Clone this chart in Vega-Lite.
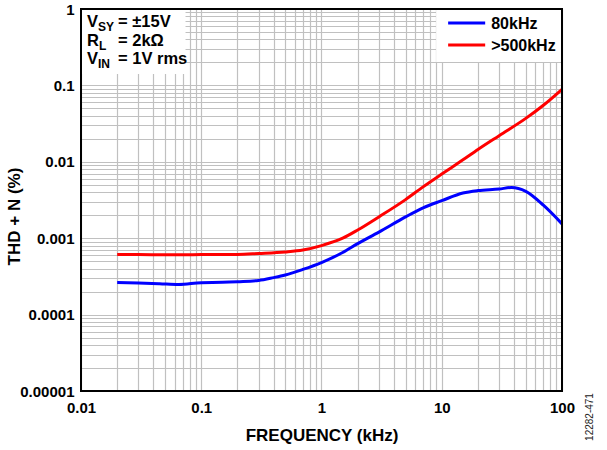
{
  "$schema": "https://vega.github.io/schema/vega-lite/v6.json",
  "width": 481,
  "height": 382,
  "autosize": "none",
  "padding": {"left": 81, "top": 9, "right": 45, "bottom": 59},
  "background": "white",
  "config": {
    "view": {"stroke": null},
    "font": "Liberation Sans",
    "axis": {
      "labelFont": "Liberation Sans",
      "labelFontWeight": "bold",
      "labelFontSize": 15,
      "labelColor": "black",
      "titleFont": "Liberation Sans",
      "titleFontWeight": "bold",
      "titleFontSize": 17,
      "titleColor": "black",
      "domain": false,
      "ticks": false,
      "grid": true,
      "gridColor": "#c0c0c0",
      "gridWidth": 1.2,
      "gridOpacity": 1,
      "labelOverlap": false,
      "labelFlush": false
    }
  },
  "data": {
    "values": [
      {"freq": 0.02, "thd": 0.000263, "series": "80kHz"},
      {"freq": 0.03, "thd": 0.00026, "series": "80kHz"},
      {"freq": 0.045, "thd": 0.000254, "series": "80kHz"},
      {"freq": 0.065, "thd": 0.000248, "series": "80kHz"},
      {"freq": 0.1, "thd": 0.000262, "series": "80kHz"},
      {"freq": 0.15, "thd": 0.000265, "series": "80kHz"},
      {"freq": 0.2, "thd": 0.00027, "series": "80kHz"},
      {"freq": 0.3, "thd": 0.00028, "series": "80kHz"},
      {"freq": 0.4, "thd": 0.000305, "series": "80kHz"},
      {"freq": 0.5, "thd": 0.00033, "series": "80kHz"},
      {"freq": 0.7, "thd": 0.00039, "series": "80kHz"},
      {"freq": 1, "thd": 0.00048, "series": "80kHz"},
      {"freq": 1.5, "thd": 0.00065, "series": "80kHz"},
      {"freq": 2, "thd": 0.00085, "series": "80kHz"},
      {"freq": 3, "thd": 0.0012, "series": "80kHz"},
      {"freq": 5, "thd": 0.0019, "series": "80kHz"},
      {"freq": 7, "thd": 0.0025, "series": "80kHz"},
      {"freq": 10, "thd": 0.0031, "series": "80kHz"},
      {"freq": 15, "thd": 0.0039, "series": "80kHz"},
      {"freq": 20, "thd": 0.0042, "series": "80kHz"},
      {"freq": 30, "thd": 0.0044, "series": "80kHz"},
      {"freq": 38, "thd": 0.0046, "series": "80kHz"},
      {"freq": 50, "thd": 0.0041, "series": "80kHz"},
      {"freq": 70, "thd": 0.0027, "series": "80kHz"},
      {"freq": 100, "thd": 0.00154, "series": "80kHz"},
      {"freq": 0.02, "thd": 0.00061, "series": ">500kHz"},
      {"freq": 0.03, "thd": 0.00061, "series": ">500kHz"},
      {"freq": 0.05, "thd": 0.000605, "series": ">500kHz"},
      {"freq": 0.07, "thd": 0.000605, "series": ">500kHz"},
      {"freq": 0.1, "thd": 0.00061, "series": ">500kHz"},
      {"freq": 0.2, "thd": 0.000612, "series": ">500kHz"},
      {"freq": 0.3, "thd": 0.00063, "series": ">500kHz"},
      {"freq": 0.5, "thd": 0.00066, "series": ">500kHz"},
      {"freq": 0.7, "thd": 0.0007, "series": ">500kHz"},
      {"freq": 1, "thd": 0.0008, "series": ">500kHz"},
      {"freq": 1.5, "thd": 0.001, "series": ">500kHz"},
      {"freq": 2, "thd": 0.00128, "series": ">500kHz"},
      {"freq": 3, "thd": 0.0019, "series": ">500kHz"},
      {"freq": 5, "thd": 0.0032, "series": ">500kHz"},
      {"freq": 7, "thd": 0.0047, "series": ">500kHz"},
      {"freq": 10, "thd": 0.0069, "series": ">500kHz"},
      {"freq": 15, "thd": 0.0106, "series": ">500kHz"},
      {"freq": 20, "thd": 0.0145, "series": ">500kHz"},
      {"freq": 30, "thd": 0.022, "series": ">500kHz"},
      {"freq": 50, "thd": 0.037, "series": ">500kHz"},
      {"freq": 70, "thd": 0.055, "series": ">500kHz"},
      {"freq": 100, "thd": 0.089, "series": ">500kHz"}
    ]
  },
  "layer": [
    {
      "data": {"values": [{}]},
      "mark": {"type": "rect", "fill": "white"},
      "encoding": {
        "x": {"datum": 0.01, "type": "quantitative", "scale": {"type": "log", "domain": [0.01, 100], "nice": false}},
        "x2": {"datum": 0.074},
        "y": {"datum": 0.141, "type": "quantitative", "scale": {"type": "log", "domain": [0.00001, 1], "nice": false}},
        "y2": {"datum": 1}
      }
    },
    {
      "mark": {"type": "line", "strokeWidth": 3, "interpolate": "monotone"},
      "encoding": {
        "x": {
          "field": "freq", "type": "quantitative",
          "scale": {"type": "log", "domain": [0.01, 100], "nice": false},
          "axis": {
            "title": "FREQUENCY (kHz)",
            "values": [0.01,0.02,0.03,0.04,0.05,0.06,0.07,0.08,0.09,0.1,0.2,0.3,0.4,0.5,0.6,0.7,0.8,0.9,1,2,3,4,5,6,7,8,9,10,20,30,40,50,60,70,80,90,100],
            "format": "~f",
            "labelExpr": "indexof(['0.01','0.1','1','10','100'], datum.label) >= 0 ? datum.label : ''",
            "labelPadding": 9,
            "titlePadding": 12
          }
        },
        "y": {
          "field": "thd", "type": "quantitative",
          "scale": {"type": "log", "domain": [0.00001, 1], "nice": false},
          "axis": {
            "title": "THD + N (%)",
            "values": [0.00001,0.00002,0.00003,0.00004,0.00005,0.00006,0.00007,0.00008,0.00009,0.0001,0.0002,0.0003,0.0004,0.0005,0.0006,0.0007,0.0008,0.0009,0.001,0.002,0.003,0.004,0.005,0.006,0.007,0.008,0.009,0.01,0.02,0.03,0.04,0.05,0.06,0.07,0.08,0.09,0.1,0.2,0.3,0.4,0.5,0.6,0.7,0.8,0.9,1],
            "format": "~f",
            "labelExpr": "indexof(['0.00001','0.0001','0.001','0.01','0.1','1'], datum.label) >= 0 ? datum.label : ''",
            "labelPadding": 7,
            "titleX": -67,
            "titleY": 207,
            "titleBaseline": "middle",
            "titleAlign": "center",
            "titleAngle": -90
          }
        },
        "color": {
          "field": "series", "type": "nominal",
          "scale": {"domain": ["80kHz", ">500kHz"], "range": ["#0000ff", "#ff0000"]},
          "legend": null
        }
      }
    },
    {
      "data": {"values": [{}]},
      "mark": {"type": "rect", "fill": "white"},
      "encoding": {
        "x": {"datum": 8.98, "type": "quantitative"},
        "x2": {"datum": 100},
        "y": {"datum": 0.2024, "type": "quantitative"},
        "y2": {"datum": 1}
      }
    },
    {
      "data": {"values": [{}]},
      "mark": {"type": "rule", "stroke": "#0000ff", "strokeWidth": 3},
      "encoding": {
        "x": {"datum": 11.3, "type": "quantitative"},
        "x2": {"datum": 22.97},
        "y": {"datum": 0.6558, "type": "quantitative"}
      }
    },
    {
      "data": {"values": [{}]},
      "mark": {"type": "rule", "stroke": "#ff0000", "strokeWidth": 3},
      "encoding": {
        "x": {"datum": 11.3, "type": "quantitative"},
        "x2": {"datum": 22.97},
        "y": {"datum": 0.338, "type": "quantitative"}
      }
    },
    {
      "data": {"values": [{}]},
      "mark": {"type": "text", "text": "80kHz", "font": "Liberation Sans", "fontWeight": "bold", "fontSize": 16, "align": "left", "baseline": "alphabetic", "color": "black"},
      "encoding": {"x": {"datum": 25.77, "type": "quantitative"}, "y": {"datum": 0.5473, "type": "quantitative"}}
    },
    {
      "data": {"values": [{}]},
      "mark": {"type": "text", "text": ">500kHz", "font": "Liberation Sans", "fontWeight": "bold", "fontSize": 16, "align": "left", "baseline": "alphabetic", "color": "black"},
      "encoding": {"x": {"datum": 25.77, "type": "quantitative"}, "y": {"datum": 0.2819, "type": "quantitative"}}
    },
    {
      "data": {"values": [{}]},
      "mark": {"type": "text", "text": "V", "font": "Liberation Sans", "fontWeight": "bold", "fontSize": 16.5, "align": "left", "baseline": "alphabetic", "color": "black"},
      "encoding": {"x": {"datum": 0.01122, "type": "quantitative"}, "y": {"datum": 0.5813, "type": "quantitative"}}
    },
    {
      "data": {"values": [{}]},
      "mark": {"type": "text", "text": "SY", "font": "Liberation Sans", "fontWeight": "bold", "fontSize": 12, "align": "left", "baseline": "alphabetic", "color": "black"},
      "encoding": {"x": {"datum": 0.01385, "type": "quantitative"}, "y": {"datum": 0.5152, "type": "quantitative"}}
    },
    {
      "data": {"values": [{}]},
      "mark": {"type": "text", "text": "= ±15V", "font": "Liberation Sans", "fontWeight": "bold", "fontSize": 16.5, "align": "left", "baseline": "alphabetic", "color": "black"},
      "encoding": {"x": {"datum": 0.02031, "type": "quantitative"}, "y": {"datum": 0.5813, "type": "quantitative"}}
    },
    {
      "data": {"values": [{}]},
      "mark": {"type": "text", "text": "R", "font": "Liberation Sans", "fontWeight": "bold", "fontSize": 16.5, "align": "left", "baseline": "alphabetic", "color": "black"},
      "encoding": {"x": {"datum": 0.01122, "type": "quantitative"}, "y": {"datum": 0.328, "type": "quantitative"}}
    },
    {
      "data": {"values": [{}]},
      "mark": {"type": "text", "text": "L", "font": "Liberation Sans", "fontWeight": "bold", "fontSize": 12, "align": "left", "baseline": "alphabetic", "color": "black"},
      "encoding": {"x": {"datum": 0.01412, "type": "quantitative"}, "y": {"datum": 0.2906, "type": "quantitative"}}
    },
    {
      "data": {"values": [{}]},
      "mark": {"type": "text", "text": "= 2kΩ", "font": "Liberation Sans", "fontWeight": "bold", "fontSize": 16.5, "align": "left", "baseline": "alphabetic", "color": "black"},
      "encoding": {"x": {"datum": 0.02031, "type": "quantitative"}, "y": {"datum": 0.328, "type": "quantitative"}}
    },
    {
      "data": {"values": [{}]},
      "mark": {"type": "text", "text": "V", "font": "Liberation Sans", "fontWeight": "bold", "fontSize": 16.5, "align": "left", "baseline": "alphabetic", "color": "black"},
      "encoding": {"x": {"datum": 0.01122, "type": "quantitative"}, "y": {"datum": 0.1906, "type": "quantitative"}}
    },
    {
      "data": {"values": [{}]},
      "mark": {"type": "text", "text": "IN", "font": "Liberation Sans", "fontWeight": "bold", "fontSize": 12, "align": "left", "baseline": "alphabetic", "color": "black"},
      "encoding": {"x": {"datum": 0.01385, "type": "quantitative"}, "y": {"datum": 0.1689, "type": "quantitative"}}
    },
    {
      "data": {"values": [{}]},
      "mark": {"type": "text", "text": "= 1V rms", "font": "Liberation Sans", "fontWeight": "bold", "fontSize": 16.5, "align": "left", "baseline": "alphabetic", "color": "black"},
      "encoding": {"x": {"datum": 0.02031, "type": "quantitative"}, "y": {"datum": 0.1906, "type": "quantitative"}}
    },
    {
      "data": {"values": [{}]},
      "mark": {"type": "text", "text": "12282-471", "font": "Liberation Sans", "fontSize": 10, "angle": 270, "align": "center", "baseline": "middle", "color": "#222222"},
      "encoding": {"x": {"datum": 171.7, "type": "quantitative"}, "y": {"datum": 0.00000457, "type": "quantitative"}}
    },
    {
      "data": {"values": [{}]},
      "mark": {"type": "rect", "fill": null, "stroke": "black", "strokeWidth": 2},
      "encoding": {
        "x": {"datum": 0.01, "type": "quantitative"},
        "x2": {"datum": 100},
        "y": {"datum": 0.00001, "type": "quantitative"},
        "y2": {"datum": 1}
      }
    }
  ]
}
